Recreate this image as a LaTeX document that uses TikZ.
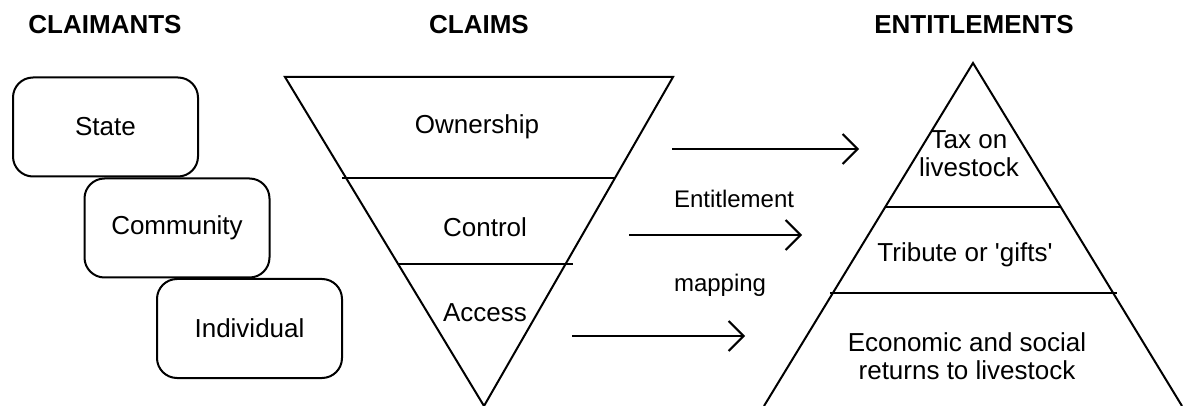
\documentclass[tikz,border=0pt]{standalone}
\usepackage{fontspec}
\setmainfont{Liberation Sans}
\usetikzlibrary{arrows.meta,positioning}

\begin{document}
\begin{tikzpicture}[
    x=0.5pt, y=-0.5pt,
    line width=1pt,
    head/.style={font=\fontsize{13}{14}\selectfont\bfseries},
    claimant/.style={draw, rounded corners=10pt, minimum width=92.5pt, minimum height=49.5pt, font=\fontsize{13}{14}\selectfont},
    layer/.style={align=center, font=\fontsize{13}{14}\selectfont},
    maplabel/.style={anchor=west, inner sep=0pt, font=\fontsize{12}{14}\selectfont},
    >={Straight Barb[length=7.5pt,width=15pt]}
]
\useasboundingbox (0,0) rectangle (1183,406);

% column headings
\node[head] (claimants) at (105,25) {CLAIMANTS};
\node[head] (claims) at (479,25) {CLAIMS};
\node[head] (entitlements) at (974,25) {ENTITLEMENTS};

% claimants
\node[claimant] (state) at (105.5,127) {State};
\node[claimant] (community) at (177,228) {Community};
\node[claimant] (individual) at (249.5,328.5) {Individual};

% claims funnel
\draw (285,77) -- (673,77) -- (484,406) -- cycle;
\draw (342,178) -- (615,178);
\draw (398,264) -- (573,264);
\node[layer] (ownership) at (477,127) {Ownership};
\node[layer] (control) at (485,227) {Control};
\node[layer] (access) at (485,313) {Access};

% entitlements pyramid
\draw (764,406) -- (973,63) -- (1182,406);
\draw (886,207) -- (1061,207);
\draw (830,293) -- (1117,293);
\node[layer] (tax) at (969,154) {Tax on\\livestock};
\node[layer] (tribute) at (965,255) {Tribute or \textquotesingle gifts\textquotesingle};
\node[layer] (returns) at (967,356) {Economic and social\\returns to livestock};

% entitlement mapping
\coordinate (own-out) at (672,149);
\coordinate (tax-in) at (859,149);
\coordinate (ctrl-out) at (629,235);
\coordinate (trib-in) at (802,235);
\coordinate (acc-out) at (572,336);
\coordinate (ret-in) at (745,336);
\draw[->] (own-out) -- (tax-in);
\draw[->] (ctrl-out) -- (trib-in);
\draw[->] (acc-out) -- (ret-in);
\node[maplabel] (entitlement) at (673,199) {Entitlement};
\node[maplabel] (mapping) at (673,285) {mapping};
\end{tikzpicture}
\end{document}
